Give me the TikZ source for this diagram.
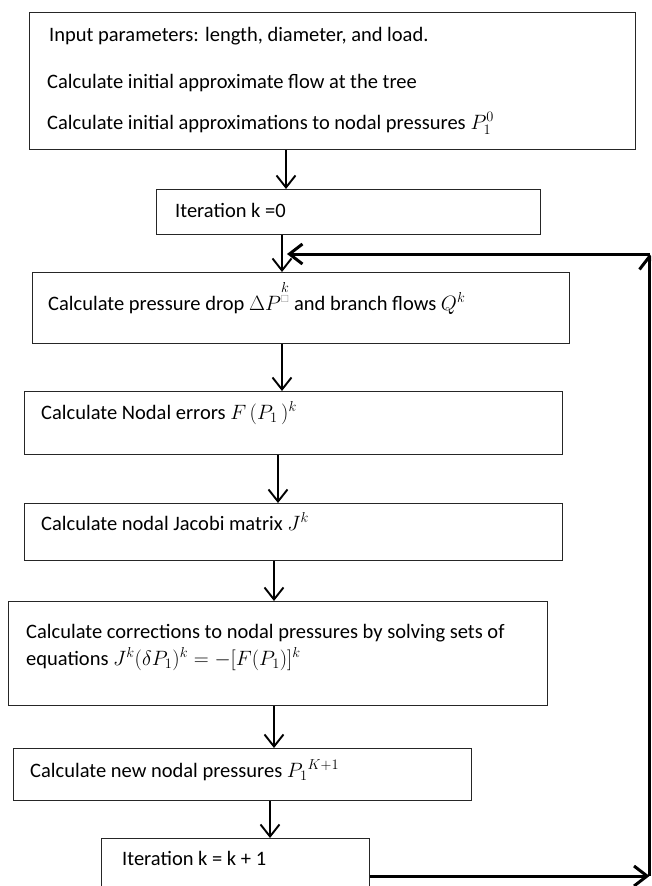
\documentclass[tikz,border=0pt]{standalone}
\usepackage{amsmath,amssymb}
\usepackage{fontspec}
\setmainfont{Carlito}
\usetikzlibrary{arrows.meta}
\tikzset{
  box/.style ={draw=black!85,line width=1.2pt,inner sep=0pt,anchor=north west},
  txt/.style ={anchor=base west,inner sep=0pt,font=\fontsize{20.5}{26}\selectfont},
  flow/.style={-{Straight Barb[length=12pt,width=19pt]},line width=1.9pt},
  back/.style={-{Straight Barb[length=13pt,width=20pt]},line width=3pt},
}

\begin{document}
\begin{tikzpicture}[x=1pt,y=-1pt]
  \useasboundingbox (0,0) rectangle (651,886);
  \clip (0,0) rectangle (651,886);
  % boxes
  \node[box,minimum width=606pt,minimum height=137pt] (inp)  at (29,12)  {};
  \node[box,minimum width=384pt,minimum height=45pt]  (it0)  at (156,189) {};
  \node[box,minimum width=537pt,minimum height=71pt]  (drop) at (32,272)  {};
  \node[box,minimum width=538pt,minimum height=63pt]  (err)  at (24,391)  {};
  \node[box,minimum width=538pt,minimum height=57pt]  (jac)  at (24,503)  {};
  \node[box,minimum width=539pt,minimum height=104pt] (corr) at (8,601)   {};
  \node[box,minimum width=458pt,minimum height=52pt]  (newp) at (13,748)  {};
  \node[box,minimum width=268pt,minimum height=70pt]  (itk)  at (101,838) {};
  % texts
  \node[txt] (inpa) at (49,41)  {Input parameters: length, diameter, and load.};
  \node[txt] (inpb) at (47,88)  {Calculate initial approximate flow at the tree};
  \node[txt] (inpc) at (47,129) {Calculate initial approximations to nodal pressures $P_1^{0}$};
  \node[txt] (it0t) at (175,217) {Iteration k =0};
  \node[txt] (dropt) at (48,310) {Calculate pressure drop $\Delta P^{\overset{\scriptstyle k}{\textcolor{gray}{\scriptscriptstyle\square}}}$ and branch flows $Q^{k}$};
  \node[txt] (errt) at (41,419) {Calculate Nodal errors $F\,(P_1\,)^{k}$};
  \node[txt] (jact) at (41,530) {Calculate nodal Jacobi matrix $J^{k}$};
  \node[txt] (corra) at (26,638) {Calculate corrections to nodal pressures by solving sets of};
  \node[txt] (corrb) at (26,665) {equations $J^{k}(\delta P_1)^{k} = -[F(P_1)]^{k}$};
  \node[txt] (newpt) at (30,777) {Calculate new nodal pressures $P_1{}^{K+1}$};
  \node[txt] (itkt) at (122,865) {Iteration k = k + 1};
  % arrows down
  \draw[flow] (286,0 |- inp.south)  -- (286,0 |- it0.north);
  \draw[flow] (282,0 |- it0.south)  -- (282,0 |- drop.north);
  \draw[flow] (282,0 |- drop.south) -- (282,0 |- err.north);
  \draw[flow] (278,0 |- err.south)  -- (278,0 |- jac.north);
  \draw[flow] (274,0 |- jac.south)  -- (274,0 |- corr.north);
  \draw[flow] (274,0 |- corr.south) -- (274,0 |- newp.north);
  \draw[flow] (270,0 |- newp.south) -- (270,0 |- itk.north);
  % loop back
  \coordinate (rb) at (649.5,876);
  \coordinate (rt) at (649.5,254);
  \draw[back] (itk.east |- rb) -- (rb);
  \draw[back] (rb) -- (rt);
  \draw[back] (rt) -- (287,0 |- rt);
\end{tikzpicture}
\end{document}
